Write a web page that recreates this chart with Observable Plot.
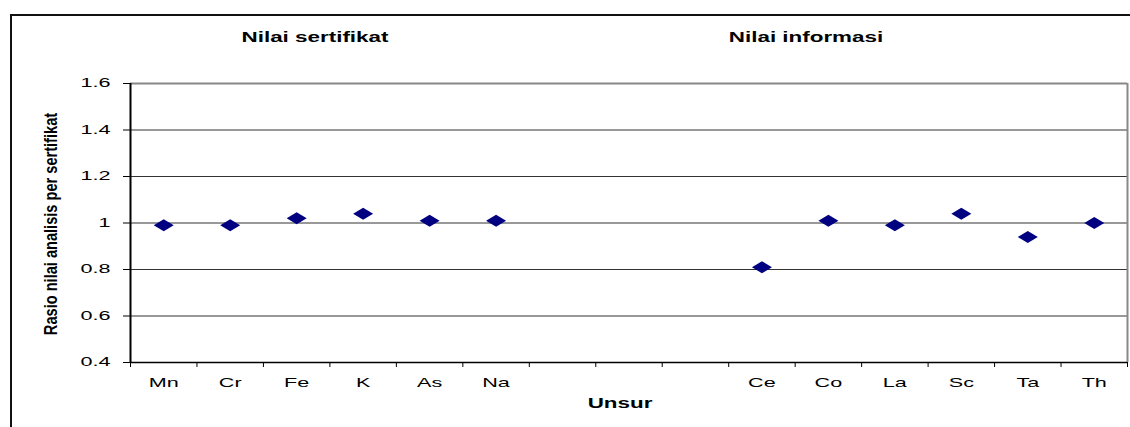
<!DOCTYPE html>
<html>
<head>
<meta charset="utf-8">
<script src="https://cdn.jsdelivr.net/npm/d3@7"></script>
<script src="https://cdn.jsdelivr.net/npm/@observablehq/plot@0.6"></script>
<style>
  body { margin: 0; background: #fff; }
  #wrap { position: relative; width: 1130px; height: 427px; overflow: hidden; font-family: "Liberation Sans", Arial, sans-serif; }
  #frame { position: absolute; left: 10px; top: 14px; width: 1130px; height: 430px; border-top: 2px solid #111; border-left: 2px solid #111; }
  #wrap svg { position: absolute; left: 0; top: 0; }
  .lbl { position: absolute; white-space: nowrap; font-weight: bold; font-size: 14px; line-height: 14px; color: #000; }
  .hz { transform: translateX(-50%) scaleX(1.6); }
  .vt { font-size: 14.6px; transform: translate(-50%, -50%) rotate(-90deg) scaleY(1.2); }
</style>
</head>
<body>
<div id="wrap"><div id="frame"></div></div>
<script>
const categories = ["Mn", "Cr", "Fe", "K", "As", "Na", "", "", "", "Ce", "Co", "La", "Sc", "Ta", "Th"];
const ratios = [0.99, 0.99, 1.02, 1.04, 1.01, 1.01, null, null, null, 0.81, 1.01, 0.99, 1.04, 0.94, 1.00];
const yTicks = [0.4, 0.6, 0.8, 1.0, 1.2, 1.4, 1.6];
const panelTitles = ["Nilai sertifikat", "Nilai informasi"];
const xLabel = "Unsur";
const yLabel = "Rasio nilai analisis per sertifikat";

const data = categories
  .map((name, i) => ({name, pos: i + 0.5, ratio: ratios[i]}))
  .filter(d => d.ratio != null);

// flattened diamond marker (shape only)
const flatDiamond = {
  draw(ctx) {
    ctx.moveTo(-10, 0); ctx.lineTo(0, -6); ctx.lineTo(10, 0); ctx.lineTo(0, 6); ctx.closePath();
  }
};

const chart = Plot.plot({
  width: 1130,
  height: 427,
  marginLeft: 130,
  marginRight: 3,
  marginTop: 83,
  marginBottom: 65,
  style: {fontFamily: "'Liberation Sans', Arial, sans-serif", fontSize: "12px", color: "#000", background: "transparent"},
  x: {type: "linear", domain: [0, categories.length]},
  y: {domain: [yTicks[0], yTicks[yTicks.length - 1]]},
  marks: [
    Plot.gridY(yTicks.slice(1, -1), {stroke: "#333", strokeOpacity: 1}),
    Plot.ruleY([yTicks[yTicks.length - 1]], {stroke: "#888", strokeWidth: 2}),
    Plot.ruleX([categories.length], {stroke: "#888", strokeWidth: 2}),
    Plot.axisY({ticks: yTicks, tickSize: 7, tickPadding: 13, tickFormat: d => String(d), label: null, fontSize: 12}),
    Plot.axisX({ticks: d3.range(categories.length + 1), tickSize: 5, tickFormat: () => "", label: null}),
    Plot.axisX({ticks: categories.map((d, i) => i + 0.5), tickSize: 0, tickPadding: 16,
      tickFormat: v => categories[Math.floor(v)], label: null, fontSize: 12}),
    Plot.ruleY([yTicks[0]], {stroke: "#000", strokeWidth: 1.5}),
    Plot.ruleX([0], {stroke: "#000", strokeWidth: 2}),
    Plot.dot(data, {x: "pos", y: "ratio", symbol: flatDiamond, fill: "#000080", stroke: "none", r: 6})
  ]
});

// widen tick label glyphs like the original rendering
chart.querySelectorAll("text").forEach(t => {
  const tr = t.getAttribute("transform") || "";
  t.setAttribute("transform", tr + " scale(1.8,1)");
});

const wrap = document.getElementById("wrap");
wrap.appendChild(chart);

function addLabel(text, cls, left, top) {
  const el = document.createElement("div");
  el.className = "lbl " + cls;
  el.textContent = text;
  el.style.left = left + "px";
  el.style.top = top + "px";
  wrap.appendChild(el);
}
addLabel(panelTitles[0], "hz", 315, 30);
addLabel(panelTitles[1], "hz", 806, 30);
addLabel(xLabel, "hz", 620, 396);
addLabel(yLabel, "vt", 51, 224);
</script>
</body>
</html>
